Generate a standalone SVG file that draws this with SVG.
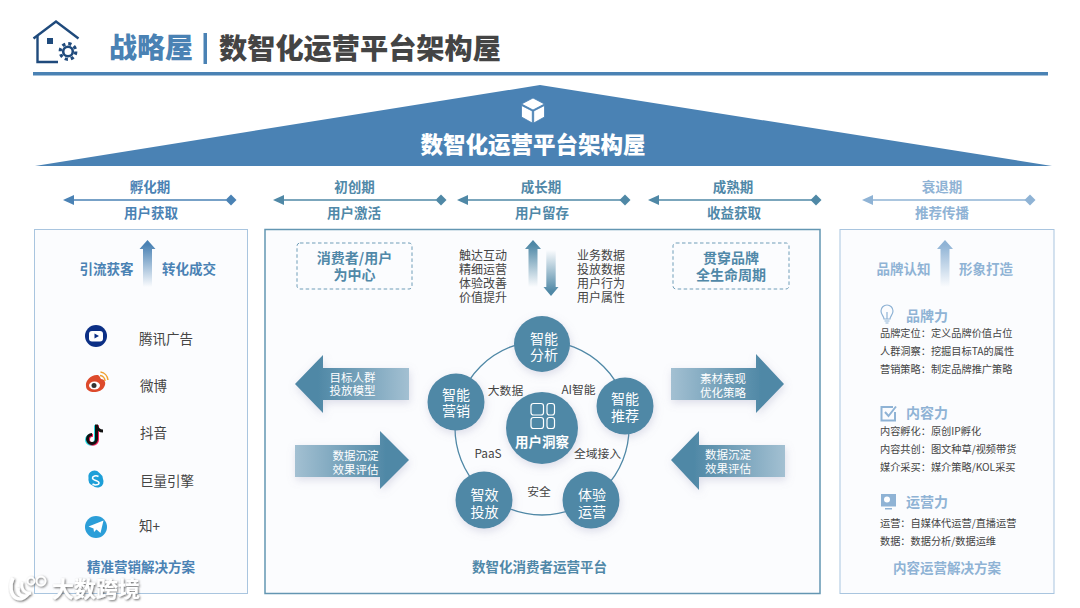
<svg xmlns="http://www.w3.org/2000/svg" width="1080" height="608" viewBox="0 0 1080 608">
<defs>
<style>
text{font-family:"Noto Sans CJK SC","Liberation Sans",sans-serif;dominant-baseline:central}
.m{text-anchor:middle}
.b{font-weight:700}
.h{font-weight:900}
.blue{fill:#4a82b4}.teal{fill:#5088a8}.pale{fill:#8fb3d5}
.dark{fill:#444}
.w{fill:#fff}
.c{fill:#4f88a6;filter:url(#sh)}
.ct{fill:#fff;font-size:14px;text-anchor:middle}
.bt{fill:#fff;font-size:11.5px;text-anchor:middle}
.r{fill:#444;font-size:10.2px}
.l{fill:#444;font-size:12px}
.panel{fill:#fbfcfe}
</style>
<filter id="sh" x="-30%" y="-30%" width="160%" height="160%"><feDropShadow dx="1" dy="3" stdDeviation="4" flood-color="#8a8ab0" flood-opacity=".28"/></filter>
<filter id="wm" x="-10%" y="-20%" width="120%" height="150%"><feDropShadow dx="1" dy="1" stdDeviation="1.200" flood-color="#444" flood-opacity=".8"/></filter>
<linearGradient id="gL" x1="0" x2="1" y1="0" y2="0"><stop offset=".2" stop-color="#4f88a6"/><stop offset="1" stop-color="#a3c0d2"/></linearGradient>
<linearGradient id="gR" x1="0" x2="1" y1="0" y2="0"><stop offset="0" stop-color="#a3c0d2"/><stop offset=".8" stop-color="#4f88a6"/></linearGradient>
<linearGradient id="upB" x1="0" x2="0" y1="0" y2="1"><stop offset=".1" stop-color="#4a82b4"/><stop offset="1" stop-color="#4a82b4" stop-opacity="0"/></linearGradient>
<linearGradient id="upT" x1="0" x2="0" y1="0" y2="1"><stop offset=".1" stop-color="#4f88a6"/><stop offset="1" stop-color="#4f88a6" stop-opacity="0"/></linearGradient>
<linearGradient id="upP" x1="0" x2="0" y1="0" y2="1"><stop offset=".1" stop-color="#8fb3d5"/><stop offset="1" stop-color="#8fb3d5" stop-opacity="0"/></linearGradient>
<linearGradient id="dnT" x1="0" x2="0" y1="1" y2="0"><stop offset=".1" stop-color="#4f88a6"/><stop offset="1" stop-color="#4f88a6" stop-opacity="0"/></linearGradient>
<path id="up" d="M0 0L8 9H4.500V47H-4.500V9H-8Z"/>
<path id="dn" d="M0 46L-7.500 37H-4.700V0H4.700V37H7.500Z"/>
</defs>
<rect width="1080" height="608" fill="#fff"/>

<g id="header">
<g fill="none" stroke="#1f4a7c" stroke-width="2.400">
<path d="M33.500 38.500L56 21.500L78.500 38.500"/>
<path d="M37.500 36V62H58"/>
<circle cx="68" cy="51.500" r="4.800" stroke-width="2.600"/>
<circle cx="68" cy="51.500" r="7.800" stroke-width="3.200" stroke-dasharray="3.200 2.930"/>
</g>
<rect x="47" y="38" width="6" height="6" fill="#1f4a7c"/>
<text class="h blue" x="109" y="46" font-size="28">战略屋</text>
<rect x="203.500" y="33" width="3.500" height="31" fill="#4a82b4"/>
<text class="h" fill="#444" x="219" y="46" font-size="28.200">数智化运营平台架构屋</text>
<rect x="33" y="72" width="1015" height="3.500" fill="#4a82b4"/>
</g>

<g id="roof">
<path d="M540 85L1052 166H35Z" fill="#4a82b4"/>
<g fill="#fff" stroke="#4a82b4" stroke-width=".8">
<path d="M533 98L544.500 104L533 110L521.500 104Z"/>
<path d="M521.500 105.500L532.300 111V123L521.500 117Z"/>
<path d="M544.500 105.500L533.700 111V123L544.500 117Z"/>
</g>
<text class="h w m" x="533" y="143" font-size="22.500">数智化运营平台架构屋</text>
</g>

<g id="panels">
<rect class="panel" x="34.500" y="229.500" width="213" height="364" stroke="#a9c5df" stroke-width="1"/>
<rect class="panel" x="265" y="229.500" width="555" height="364" stroke="#6396b2" stroke-width="1.500"/>
<rect class="panel" x="840" y="229.500" width="214" height="364" stroke="#a9c5df" stroke-width="1"/>
</g>

<g id="connectors">
<g id="phase-lines" stroke-width="1.500" fill="none">
<path d="M70 200H226" stroke="#4a82b4"/>
<path d="M280 200H436" stroke="#4f88a6"/>
<path d="M464 200H625" stroke="#4f88a6"/>
<path d="M655 200H816" stroke="#4f88a6"/>
<path d="M869 200H1030" stroke="#8fb3d5"/>
</g>
<g fill="#4a82b4"><path d="M63 200L74 195V205Z"/><path d="M231 194.500L236.500 200L231 205.500L225.500 200Z"/></g>
<g fill="#4f88a6"><path d="M273 200L284 195V205Z"/><path d="M441 194.500L446.500 200L441 205.500L435.500 200Z"/>
<path d="M457 200L468 195V205Z"/><path d="M625 194.500L630.500 200L625 205.500L619.500 200Z"/>
<path d="M648 200L659 195V205Z"/><path d="M816 194.500L821.500 200L816 205.500L810.500 200Z"/></g>
<g fill="#8fb3d5"><path d="M862 200L873 195V205Z"/><path d="M1030 194.500L1035.500 200L1030 205.500L1024.500 200Z"/></g>
<circle id="ring" cx="542" cy="428" r="87" fill="none" stroke="#4f88a6" stroke-width="1.300"/>
</g>

<g id="phases">
<text class="b m blue" x="150" y="186" font-size="13.500">孵化期</text>
<text class="b m blue" x="151" y="212" font-size="13.500">用户获取</text>
<text class="b m teal" x="354.500" y="186" font-size="13.500">初创期</text>
<text class="b m teal" x="354" y="212" font-size="13.500">用户激活</text>
<text class="b m teal" x="541" y="186" font-size="13.500">成长期</text>
<text class="b m teal" x="542" y="212" font-size="13.500">用户留存</text>
<text class="b m teal" x="733" y="186" font-size="13.500">成熟期</text>
<text class="b m teal" x="734" y="212" font-size="13.500">收益获取</text>
<text class="b m pale" x="942" y="186" font-size="13.500">衰退期</text>
<text class="b m pale" x="942" y="212" font-size="13.500">推荐传播</text>
</g>

<g id="panel-left">
<use href="#up" x="147.500" y="240" fill="url(#upB)"/>
<text class="b m blue" x="106.500" y="268" font-size="13.500">引流获客</text>
<text class="b m blue" x="189" y="268" font-size="13.500">转化成交</text>
<text class="m b blue" x="141" y="566" font-size="13.500">精准营销解决方案</text>
<g id="icon-tencent"><circle cx="96" cy="336" r="11" fill="#0b2f85"/><rect x="89" y="331" width="14" height="10.500" rx="3" fill="#fff"/><path d="M94.500 333.500L99 336L94.500 338.500Z" fill="#0b2f85"/></g>
<text class="dark" x="139" y="338" font-size="13.500">腾讯广告</text>
<g id="icon-weibo"><path d="M86 386C85 380 92 374 98 375C100 376 100 378 101 379C104 379 106 382 105 385C103 391 98 392 94 392C90 392 86 390 86 386Z" fill="#dd4a2c"/><ellipse cx="94.500" cy="385.500" rx="5.500" ry="4" fill="#fff"/><circle cx="94" cy="385.500" r="2.500" fill="#333"/><path d="M100 375.500A5.500 5.500 0 0 1 105 381M100.500 372A9 9 0 0 1 108 380" fill="none" stroke="#f0a030" stroke-width="1.500"/></g>
<text class="dark" x="140" y="385" font-size="13.500">微博</text>
<g id="icon-douyin" fill="none" stroke-width="3"><path d="M96.500 424.500V439A4.500 4.500 0 1 1 92 434.500" stroke="#25d8e0" transform="translate(-1,0.800)"/><path d="M96.500 424.500V439A4.500 4.500 0 1 1 92 434.500" stroke="#f0205a" transform="translate(1,0.800)"/><path d="M96.500 424.500V439A4.500 4.500 0 1 1 92 434.500M96.500 425C97 429 100 431 103 431" stroke="#111"/></g>
<text class="dark" x="140" y="432" font-size="13.500">抖音</text>
<g id="icon-ocean"><path d="M92 471A6.500 6.500 0 0 0 88.500 478A7 7 0 0 0 92.500 485.500A7 7 0 0 0 100 487A6 6 0 0 0 103 479A8 8 0 0 0 99.500 473A7 7 0 0 0 92 471Z" fill="#1d9fd8"/><path d="M98.500 476.500C96 475 92.500 476 92.500 478C92.500 481 99 480 99 483C99 485 95 485.500 92.500 484" fill="none" stroke="#fff" stroke-width="1.500"/></g>
<text class="dark" x="140" y="480" font-size="13.500">巨量引擎</text>
<g id="icon-zhi"><circle cx="96" cy="527" r="11" fill="#2b9ed8"/><path d="M88.500 526.500L103.500 520.500L100.500 533L96.500 529.500L94 532L93.500 528.500Z" fill="#fff"/></g>
<text class="dark" x="139" y="525" font-size="13.500">知+</text>
</g>

<g id="panel-mid">
<text class="b m teal" x="539.500" y="566" font-size="13.500">数智化消费者运营平台</text>
</g>

<g id="dash-left"><rect x="297" y="243" width="115" height="46" rx="3" fill="none" stroke="#6f9db8" stroke-dasharray="3.500 2.500"/>
<text class="b m teal" font-size="14"><tspan x="354.500" y="257">消费者/用户</tspan><tspan x="354.500" y="273.500">为中心</tspan></text></g>
<g id="dash-right"><rect x="673" y="243" width="116" height="46" rx="3" fill="none" stroke="#6f9db8" stroke-dasharray="3.500 2.500"/>
<text class="b m teal" font-size="14"><tspan x="731" y="257">贯穿品牌</tspan><tspan x="731" y="273.500">全生命周期</tspan></text></g>

<g id="lists">
<text class="l"><tspan x="459" y="253.500">触达互动</tspan><tspan x="459" y="267.800">精细运营</tspan><tspan x="459" y="282">体验改善</tspan><tspan x="459" y="296.300">价值提升</tspan></text>
<text class="l"><tspan x="577" y="253.500">业务数据</tspan><tspan x="577" y="267.800">投放数据</tspan><tspan x="577" y="282">用户行为</tspan><tspan x="577" y="296.300">用户属性</tspan></text>
<use href="#up" x="533" y="240" fill="url(#upT)"/>
<use href="#dn" x="551" y="250" fill="url(#dnT)"/>
</g>

<g id="arrow-target"><path d="M295 384L323 355V368H409V400H323V413Z" fill="url(#gL)" filter="url(#sh)"/><text class="bt"><tspan x="352.500" y="376.500">目标人群</tspan><tspan x="352.500" y="390">投放模型</tspan></text></g>
<g id="arrow-data-left"><path d="M409 460L380 431V445H295V477H380V489Z" fill="url(#gR)" filter="url(#sh)"/><text class="bt"><tspan x="355.500" y="455">数据沉淀</tspan><tspan x="355.500" y="468.500">效果评估</tspan></text></g>
<g id="arrow-material"><path d="M784 384L756 354V368H671V400H756V413Z" fill="url(#gR)" filter="url(#sh)"/><text class="bt"><tspan x="723" y="378">素材表现</tspan><tspan x="723" y="391.500">优化策略</tspan></text></g>
<g id="arrow-data-right"><path d="M671 460L699 431V445H785V477H699V490Z" fill="url(#gL)" filter="url(#sh)"/><text class="bt"><tspan x="728" y="454">数据沉淀</tspan><tspan x="728" y="468">效果评估</tspan></text></g>

<g id="node-fenxi"><circle class="c" cx="542" cy="344" r="28"/><text class="ct"><tspan x="544" y="337.500">智能</tspan><tspan x="544" y="354">分析</tspan></text></g>
<g id="node-yingxiao"><circle class="c" cx="456" cy="402" r="28.500"/><text class="ct"><tspan x="456" y="393.500">智能</tspan><tspan x="456" y="410">营销</tspan></text></g>
<g id="node-tuijian"><circle class="c" cx="625" cy="406" r="28.500"/><text class="ct"><tspan x="625" y="398">智能</tspan><tspan x="625" y="414.500">推荐</tspan></text></g>
<g id="node-toufang"><circle class="c" cx="484" cy="500" r="28.500"/><text class="ct"><tspan x="484.500" y="494">智效</tspan><tspan x="484.500" y="510.500">投放</tspan></text></g>
<g id="node-yunying"><circle class="c" cx="591" cy="500" r="28.500"/><text class="ct"><tspan x="592" y="494">体验</tspan><tspan x="592" y="510.500">运营</tspan></text></g>
<g id="node-center"><circle class="c" cx="542" cy="428" r="36"/>
<g fill="none" stroke="#fff" stroke-width="1.200"><rect x="531" y="403.500" width="12.500" height="11.500" rx="2.500"/><rect x="547" y="403.500" width="7.500" height="11.500" rx="2.500"/><rect x="531" y="417.500" width="12.500" height="11" rx="2.500"/><rect x="547" y="417.500" width="7.500" height="11" rx="2.500"/></g>
<text class="b w m" x="542" y="441" font-size="13.500">用户洞察</text></g>

<g id="ring-labels">
<text class="dark m" x="505.500" y="389" font-size="11.800">大数据</text>
<text class="dark m" x="578.500" y="388.500" font-size="11.800">AI智能</text>
<text class="dark m" x="488" y="452" font-size="11.800">PaaS</text>
<text class="dark m" x="597.500" y="452" font-size="11.800">全域接入</text>
<text class="dark m" x="539" y="490" font-size="11.800">安全</text>
</g>

<g id="panel-right">
<use href="#up" x="945" y="240" fill="url(#upP)"/>
<text class="b m pale" x="903.500" y="268" font-size="13.500">品牌认知</text>
<text class="b m pale" x="986" y="268" font-size="13.500">形象打造</text>

<g id="icon-bulb" fill="none" stroke="#8fb3d5" stroke-width="1.200"><path d="M884 319C884 316 881 315 881 311A6 6 0 0 1 893 311C893 315 890 316 890 319Z"/><path d="M884.500 321H889.500M885.500 323H888.500M887 319V312"/></g>
<text class="b pale" x="906" y="315" font-size="14">品牌力</text>
<text class="r" x="880" y="332">品牌定位：定义品牌价值占位</text>
<text class="r" x="880" y="350">人群洞察：挖掘目标TA的属性</text>
<text class="r" x="880" y="368">营销策略：制定品牌推广策略</text>

<g id="icon-check" fill="none" stroke="#8fb3d5" stroke-width="2"><path d="M893 407H881.500V420.500H895V412"/><path d="M885 412L888.500 416L896 406.500"/></g>
<text class="b pale" x="906" y="412" font-size="14">内容力</text>
<text class="r" x="880" y="430">内容孵化：原创IP孵化</text>
<text class="r" x="880" y="448">内容共创：图文种草/视频带货</text>
<text class="r" x="880" y="466">媒介采买：媒介策略/KOL采买</text>

<g id="icon-screen"><rect x="881" y="494" width="15" height="11" fill="#8fb3d5"/><path d="M881 504H896V506.500H881ZM885 508H892V509.500H885Z" fill="#8fb3d5"/><circle cx="887" cy="499.500" r="3" fill="#fff"/></g>
<text class="b pale" x="906" y="501" font-size="14">运营力</text>
<text class="r" x="880" y="522">运营：自媒体代运营/直播运营</text>
<text class="r" x="880" y="540">数据：数据分析/数据运维</text>
<text class="b m pale" x="947" y="567" font-size="13.500">内容运营解决方案</text>
</g>

<g id="watermark" filter="url(#wm)">
<path d="M13 578C9 586 11 595 16 598C20 600 24 598 26 596C21 597 17 594 18 588" fill="none" stroke="#fff" stroke-width="3.500"/>
<path d="M22 582C21 590 25 594 31 593" fill="none" stroke="#fff" stroke-width="2.800"/>
<circle cx="31" cy="581" r="3.500" fill="none" stroke="#fff" stroke-width="1.800"/>
<circle cx="41" cy="581" r="4.500" fill="none" stroke="#fff" stroke-width="1.800"/>
<text class="b w" x="52" y="587" font-size="22">大数跨境</text>
</g>
</svg>
